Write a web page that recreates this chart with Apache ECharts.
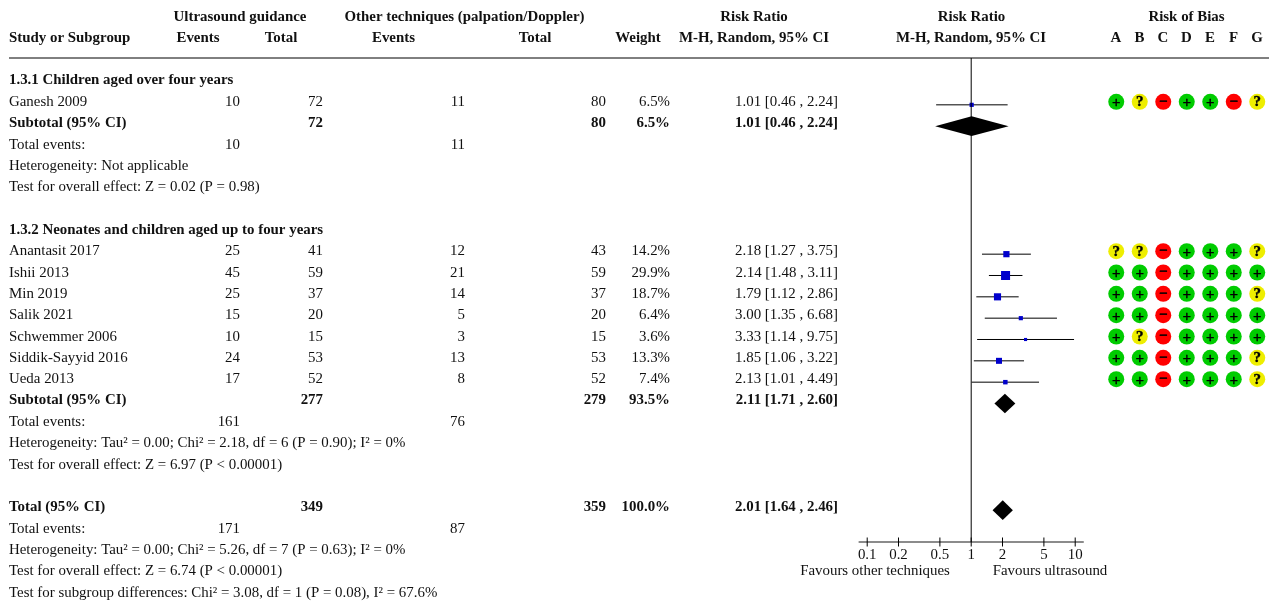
<!DOCTYPE html>
<html><head><meta charset="utf-8">
<style>html,body{margin:0;padding:0;background:#fff}#c{width:1272px;height:604px}</style>
<script src="https://cdn.jsdelivr.net/npm/echarts@6/dist/echarts.min.js"></script>
</head><body><div id="c"></div>
<script>
const studies=['Ganesh 2009','Anantasit 2017','Ishii 2013','Min 2019','Salik 2021','Schwemmer 2006','Siddik-Sayyid 2016','Ueda 2013'];
const events1=[10,25,45,25,15,10,24,17];
const total1=[72,41,59,37,20,15,53,52];
const events2=[11,12,21,14,5,3,13,8];
const total2=[80,43,59,37,20,15,53,52];
const weights=[6.5,14.2,29.9,18.7,6.4,3.6,13.3,7.4];
const rr=[1.01,2.18,2.14,1.79,3.00,3.33,1.85,2.13];
const lo=[0.46,1.27,1.48,1.12,1.35,1.14,1.06,1.01];
const hi=[2.24,3.75,3.11,2.86,6.68,9.75,3.22,4.49];
const summaryNames=['Subtotal (95% CI)','Subtotal (95% CI)','Total (95% CI)'];
const summaryTotal1=[72,277,349];
const summaryTotal2=[80,279,359];
const summaryWeight=['6.5%','93.5%','100.0%'];
const summaryRR=[1.01,2.11,2.01];
const summaryLo=[0.46,1.71,1.64];
const summaryHi=[2.24,2.60,2.46];
const totalEvents1=[10,161,171];
const totalEvents2=[11,76,87];
const groupTitles=['1.3.1 Children aged over four years','1.3.2 Neonates and children aged up to four years'];
const noteLines=['Heterogeneity: Not applicable','Test for overall effect: Z = 0.02 (P = 0.98)',
 'Heterogeneity: Tau² = 0.00; Chi² = 2.18, df = 6 (P = 0.90); I² = 0%','Test for overall effect: Z = 6.97 (P < 0.00001)',
 'Heterogeneity: Tau² = 0.00; Chi² = 5.26, df = 7 (P = 0.63); I² = 0%','Test for overall effect: Z = 6.74 (P < 0.00001)','Test for subgroup differences: Chi² = 3.08, df = 1 (P = 0.08), I² = 67.6%'];
const tickValues=[0.1,0.2,0.5,1,2,5,10];
const domains=['A','B','C','D','E','F','G'];
const robGanesh=['+','?','-','+','+','-','?'];
const robAnantasit=['?','?','-','+','+','+','?'];
const robIshii=['+','+','-','+','+','+','+'];
const robMin=['+','+','-','+','+','+','?'];
const robSalik=['+','+','-','+','+','+','+'];
const robSchwemmer=['+','?','-','+','+','+','+'];
const robSiddik=['+','+','-','+','+','+','?'];
const robUeda=['+','+','-','+','+','+','?'];

/* layout */
const rob=[robGanesh,robAnantasit,robIshii,robMin,robSalik,robSchwemmer,robSiddik,robUeda];
const studyRows=[1,8,9,10,11,12,13,14];
const summaryRows=[2,15,20];
const titleRows=[0,7];
const noteRows=[4,5,17,18,22,23,24];
const ROW=64/3, TEXT0=80.6, FONT='"Liberation Serif"', FS=14.9, INK='#111';
const rowMin=-1.1953,rowMax=21.4922;
const rowY=r=>TEXT0+ROW*r;
const gfx=[];
function t(text,x,y,align,bold){gfx.push({type:'text',x:x,y:y,silent:true,style:{text:String(text),align:align||'left',verticalAlign:'middle',fill:INK,font:(bold?'bold ':'')+FS+'px '+FONT}});}
const fmtCI=(a,b,c)=>a.toFixed(2)+' ['+b.toFixed(2)+' , '+c.toFixed(2)+']';
const X={name:9,e1:240,t1:323,e2:465,t2:606,w:670,rr:838};
[['Ultrasound guidance',240,16.8],['Other techniques (palpation/Doppler)',464.5,16.8],['Risk Ratio',754,16.8],['Risk Ratio',971.5,16.8],['Risk of Bias',1186.5,16.8],
 ['Events',198,37.8],['Total',281,37.8],['Events',393.5,37.8],['Total',535,37.8],['Weight',638,37.8],['M-H, Random, 95% CI',754,37.8],['M-H, Random, 95% CI',971,37.8]]
 .forEach(h=>t(h[0],h[1],h[2],'center',true));
t('Study or Subgroup',X.name,37.8,'left',true);
domains.forEach((d,i)=>t(d,1116+i*23.5,37.8,'center',true));
gfx.push({type:'line',silent:true,shape:{x1:9,y1:58,x2:1269,y2:58},style:{stroke:'#000',lineWidth:1}});
titleRows.forEach((r,i)=>t(groupTitles[i],X.name,rowY(r),'left',true));
studies.forEach((s,i)=>{const y=rowY(studyRows[i]);
 t(s,X.name,y);t(events1[i],X.e1,y,'right');t(total1[i],X.t1,y,'right');t(events2[i],X.e2,y,'right');t(total2[i],X.t2,y,'right');
 t(weights[i].toFixed(1)+'%',X.w,y,'right');t(fmtCI(rr[i],lo[i],hi[i]),X.rr,y,'right');});
summaryRows.forEach((r,i)=>{const y=rowY(r);
 t(summaryNames[i],X.name,y,'left',true);t(summaryTotal1[i],X.t1,y,'right',true);t(summaryTotal2[i],X.t2,y,'right',true);
 t(summaryWeight[i],X.w,y,'right',true);t(fmtCI(summaryRR[i],summaryLo[i],summaryHi[i]),X.rr,y,'right',true);
 const ey=rowY(r+1);t('Total events:',X.name,ey);t(totalEvents1[i],X.e1,ey,'right');t(totalEvents2[i],X.e2,ey,'right');});
noteRows.forEach((r,i)=>t(noteLines[i],X.name,rowY(r)));
t('Favours other techniques',875,rowY(23),'center');
t('Favours ultrasound',1050,rowY(23),'center');

const robPts=k=>{const out=[];rob.forEach((row,i)=>row.forEach((v,j)=>{if(v===k)out.push([domains[j],studyRows[i]]);}));return out;};
const robSeries=(k,color,label,dy)=>({type:'scatter',xAxisIndex:1,yAxisIndex:1,data:robPts(k),symbol:'circle',symbolSize:16,silent:true,
 itemStyle:{color:color,opacity:1},label:{show:true,position:'inside',formatter:label,color:'#000',textBorderColor:'#000',textBorderWidth:0.4,fontFamily:FONT,fontWeight:'bold',fontSize:15,offset:[0,dy]}});

const chart=echarts.init(document.getElementById('c'),null,{renderer:'canvas'});
chart.setOption({
 animation:false,backgroundColor:'#fff',
 grid:[{left:859.2,width:224,top:58,height:484,containLabel:false},{left:1104.5,width:164.5,top:55,height:484}],
 xAxis:[{type:'log',logBase:10,gridIndex:0,min:Math.pow(10,-112/104),max:Math.pow(10,112/104),position:'bottom',
   axisLine:{show:true,onZero:false,lineStyle:{color:'#666',width:1.6}},axisTick:{show:false},splitLine:{show:false},minorTick:{show:false},
   axisLabel:{show:true,customValues:tickValues,formatter:v=>String(+(+v).toPrecision(2)),margin:6,color:INK,fontFamily:FONT,fontSize:FS,hideOverlap:false,showMinLabel:true,showMaxLabel:true}},
  {type:'category',gridIndex:1,data:domains,show:false}],
 yAxis:[{type:'value',gridIndex:0,inverse:true,min:rowMin,max:rowMax,show:false,splitLine:{show:false}},
  {type:'value',gridIndex:1,inverse:true,min:rowMin,max:rowMax,show:false,splitLine:{show:false}}],
 graphic:gfx,
 series:[
  {type:'line',silent:true,data:[[1,rowMin],[1,rowMax]],showSymbol:false,symbol:'none',lineStyle:{color:'#000',width:1},clip:false},
  {type:'scatter',silent:true,clip:false,data:tickValues.map(v=>[v,rowMax]),symbol:'rect',symbolSize:[1,9],itemStyle:{color:'#000',opacity:1}},
  {type:'custom',silent:true,clip:false,data:studies.map((s,i)=>[lo[i],hi[i],studyRows[i]]),
   encode:{x:[0,1],y:2},
   renderItem:(p,api)=>{const a=api.coord([api.value(0),api.value(2)]),b=api.coord([api.value(1),api.value(2)]);
    return {type:'line',shape:{x1:a[0],y1:a[1],x2:b[0],y2:b[1]},style:{stroke:'#000',lineWidth:1}};}},
  {type:'scatter',silent:true,data:studies.map((s,i)=>({value:[rr[i],studyRows[i]],symbolSize:1.65*Math.sqrt(weights[i])})),symbol:'rect',itemStyle:{color:'#0000cc',opacity:1}},
  {type:'custom',silent:true,clip:false,data:summaryRows.map((r,i)=>[summaryLo[i],summaryRR[i],summaryHi[i],r]),
   encode:{x:[0,2],y:3},
   renderItem:(p,api)=>{const r=api.value(3),a=api.coord([api.value(0),r]),m=api.coord([api.value(1),r]),b=api.coord([api.value(2),r]);const h=9.8;
    return {type:'polygon',shape:{points:[[a[0]-1,a[1]],[m[0],m[1]-h],[b[0]+1,b[1]],[m[0],m[1]+h]]},style:{fill:'#000'}};}},
  robSeries('+','#00cc00','+',1.5),
  robSeries('?','#eeee00','?',0.5),
  robSeries('-','#ff0000','−',0)
 ]
});
</script></body></html>
